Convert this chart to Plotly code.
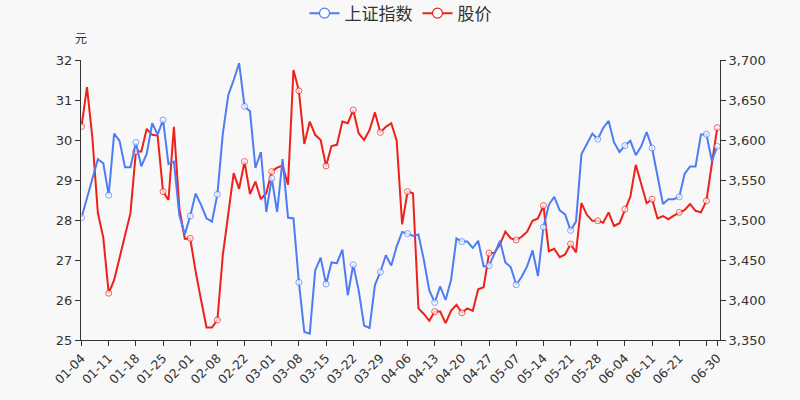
import plotly.graph_objects as go

dates = ["01-04","01-05","01-06","01-07","01-08","01-11","01-12","01-13","01-14","01-15",
         "01-18","01-19","01-20","01-21","01-22","01-25","01-26","01-27","01-28","01-29",
         "02-01","02-02","02-03","02-04","02-05","02-08","02-09","02-10","02-18","02-19",
         "02-22","02-23","02-24","02-25","02-26","03-01","03-02","03-03","03-04","03-05",
         "03-08","03-09","03-10","03-11","03-12","03-15","03-16","03-17","03-18","03-19",
         "03-22","03-23","03-24","03-25","03-26","03-29","03-30","03-31","04-01","04-02",
         "04-06","04-07","04-08","04-09","04-12","04-13","04-14","04-15","04-16","04-19",
         "04-20","04-21","04-22","04-23","04-26","04-27","04-28","04-29","04-30","05-06",
         "05-07","05-10","05-11","05-12","05-13","05-14","05-17","05-18","05-19","05-20",
         "05-21","05-24","05-25","05-26","05-27","05-28","05-31","06-01","06-02","06-03",
         "06-04","06-07","06-08","06-09","06-10","06-11","06-15","06-16","06-17","06-18",
         "06-21","06-22","06-23","06-24","06-25","06-28","06-29","06-30"]

index_vals = [3503, 3527, 3552, 3576, 3571, 3531, 3608, 3599, 3566, 3566,
              3597, 3567, 3583, 3621, 3607, 3625, 3570, 3573, 3506, 3482,
              3505, 3533, 3519, 3502, 3498, 3532, 3608, 3656, 3675, 3696,
              3642, 3636, 3565, 3585, 3510, 3552, 3510, 3576, 3503, 3502,
              3422, 3360, 3358, 3437, 3453, 3420, 3447, 3446, 3463, 3406,
              3444, 3412, 3368, 3365, 3419, 3435, 3456, 3443, 3467, 3485,
              3483, 3480, 3482, 3450, 3412, 3397, 3417, 3400, 3425, 3477,
              3473, 3473, 3465, 3474, 3442, 3443, 3458, 3474, 3447, 3441,
              3419, 3429, 3442, 3462, 3430, 3491, 3519, 3529, 3512, 3507,
              3487, 3498, 3582, 3595, 3608, 3601, 3615, 3624, 3597, 3585,
              3593, 3599, 3581, 3592, 3610, 3590, 3556, 3520, 3526, 3526,
              3529, 3558, 3567, 3567, 3607, 3607, 3574, 3592]

price_vals = [30.34, 31.32, 30.05, 28.18, 27.56, 26.17, 26.50, 27.04, 27.56, 28.17,
              29.71, 29.71, 30.28, 30.13, 30.11, 28.71, 28.50, 30.33, 28.29, 27.53,
              27.54, 26.71, 26.00, 25.31, 25.31, 25.50, 27.12, 28.21, 29.17, 28.78,
              29.46, 28.65, 28.96, 28.52, 28.67, 29.21, 29.31, 29.36, 28.88, 31.75,
              31.23, 29.90, 30.46, 30.13, 30.00, 29.35, 29.85, 29.88, 30.46, 30.42,
              30.75, 30.17, 30.00, 30.25, 30.69, 30.19, 30.33, 30.42, 29.98, 27.89,
              28.71, 28.67, 25.79, 25.65, 25.48, 25.71, 25.71, 25.42, 25.73, 25.88,
              25.68, 25.79, 25.73, 26.27, 26.32, 27.17, 27.18, 27.39, 27.71, 27.54,
              27.50, 27.58, 27.71, 27.98, 28.04, 28.36, 27.22, 27.28, 27.07, 27.14,
              27.40, 27.19, 28.42, 28.13, 27.98, 27.98, 27.93, 28.19, 27.85, 27.92,
              28.27, 28.58, 29.38, 28.89, 28.42, 28.52, 28.04, 28.10, 28.02, 28.11,
              28.19, 28.25, 28.40, 28.23, 28.19, 28.48, 29.40, 30.31]

left_ticks = [25, 26, 27, 28, 29, 30, 31, 32]
right_ticks = [3350, 3400, 3450, 3500, 3550, 3600, 3650, 3700]

n = len(dates)
xs = list(range(n))
tick_idx = list(range(0, n - 2, 5)) + [n - 1]
tick_text = [dates[i] if i != 115 else "" for i in tick_idx]

marker_sizes = [6 if (i % 5 == 0 or i == n - 1) else 0 for i in xs]

BLUE = "#4d7cf4"
RED = "#ee2019"
AXIS = "#333333"
FONT = "DejaVu Sans, Noto Sans CJK SC, sans-serif"

fig = go.Figure()
for name, vals, color, yax in [("上证指数", index_vals, BLUE, "y2"), ("股价", price_vals, RED, "y")]:
    fig.add_trace(go.Scatter(
        x=xs, y=vals, name=name, yaxis=yax, mode="lines+markers", showlegend=False,
        line=dict(color=color, width=2),
        marker=dict(symbol="circle", size=marker_sizes, color="white",
                    line=dict(color=color, width=1)),
        hovertemplate="%{text}: %{y}<extra></extra>", text=dates,
    ))
    fig.add_trace(go.Scatter(
        x=[None], y=[None], name=name, yaxis=yax, mode="lines+markers",
        line=dict(color=color, width=2),
        marker=dict(symbol="circle", size=10, color="white",
                    line=dict(color=color, width=1.2)),
    ))

fig.update_layout(
    width=800, height=400,
    margin=dict(l=81, r=80, t=60, b=60, autoexpand=False),
    paper_bgcolor="#f8f8f8", plot_bgcolor="#f8f8f8",
    font=dict(family=FONT, color=AXIS, size=12),
    showlegend=True,
    legend=dict(orientation="h", x=0.5, xanchor="center", y=1.23, yref="paper",
                yanchor="top", font=dict(size=17, color="#333"),
                itemwidth=30, bgcolor="rgba(0,0,0,0)"),
    xaxis=dict(range=[-0.1, 117.5], tickmode="array", tickvals=tick_idx, ticktext=tick_text,
               tickangle=-45, showgrid=False, zeroline=False, showline=True,
               linecolor=AXIS, linewidth=1, ticks="outside", ticklen=5, tickcolor=AXIS,
               tickfont=dict(size=12.5, color="#333")),
    yaxis=dict(range=[25, 32], tickvals=left_ticks, showgrid=False, zeroline=False,
               showline=True, linecolor=AXIS, linewidth=1, ticks="outside", ticklen=5,
               tickcolor=AXIS, tickfont=dict(size=13, color="#333")),
    yaxis2=dict(range=[3350, 3700], tickvals=right_ticks, tickformat=",", overlaying="y",
                side="right", showgrid=False, zeroline=False, showline=True,
                linecolor=AXIS, linewidth=1, ticks="outside", ticklen=5, tickcolor=AXIS,
                tickfont=dict(size=13, color="#333")),
    annotations=[dict(text="元", xref="paper", yref="paper", x=0, y=1, xanchor="center",
                      yanchor="bottom", yshift=12, showarrow=False,
                      font=dict(size=12, color="#333"))],
)

fig.write_html("out.html")
